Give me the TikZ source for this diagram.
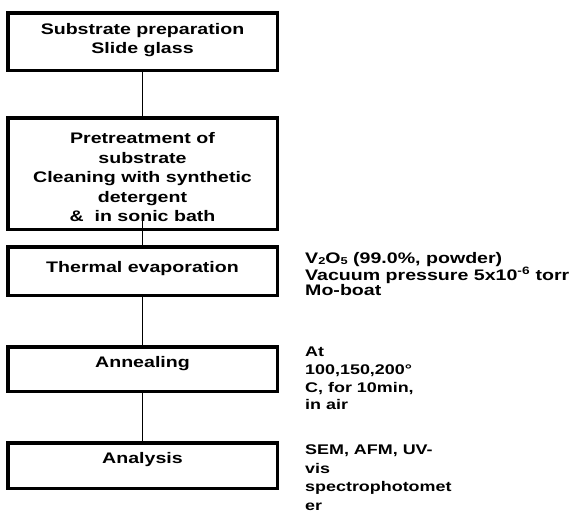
\documentclass[tikz,border=0pt]{standalone}
\usepackage{fontspec}
\setmainfont{Liberation Sans}[FakeStretch=1.28]
\newcommand{\lowidx}[1]{\raisebox{-1.3pt}{\fontsize{10}{10}\selectfont #1}}
\begin{document}
\begin{tikzpicture}[x=1pt,y=-1pt,
  box/.style={draw, line width=3.5pt, minimum width=269.5pt, inner sep=0pt},
  boxtext/.style={font=\bfseries\fontsize{15.3}{19.5}\selectfont, align=center, inner sep=0pt},
  side/.style={anchor=north west, align=left, inner sep=0pt},
  link/.style={line width=1.4pt}]
\useasboundingbox (0,0) rectangle (570,514);

% boxes
\node[box, minimum height=57.5pt]  (b1) at (142.5,41.5)  {};
\node[box, minimum height=111.5pt] (b2) at (142.5,173.5) {};
\node[box, minimum height=48.5pt]  (b3) at (142.5,271)   {};
\node[box, minimum height=44.5pt]  (b4) at (142.5,369)   {};
\node[box, minimum height=45.5pt]  (b5) at (142.5,465.5) {};

% box texts
\node[boxtext] (t1) at (142.5,40)  {Substrate preparation\\Slide glass};
\node[boxtext] (t2) at (142.5,177.5) {Pretreatment of\\substrate\\Cleaning with synthetic\\detergent\\\&\ \ in sonic bath};
\node[boxtext] (t3) at (142.5,269) {Thermal evaporation};
\node[boxtext] (t4) at (142.5,364) {Annealing};
\node[boxtext] (t5) at (142.5,460) {Analysis};

% connectors
\coordinate (c23) at (142.5,214);
\draw[link] (b1.south) -- (b2.north);
\draw[link] (c23) -- (b3.north);
\draw[link] (b3.south) -- (b4.north);
\draw[link] (b4.south) -- (b5.north);

% side notes
\node[side, font=\bfseries\fontsize{15.3}{13.8}\selectfont] (s3) at (305,252)
  {V\lowidx{2}O\lowidx{5} (99.0\%, powder)\\Vacuum pressure 5x10\textsuperscript{-6} torr\\Mo-boat};
\node[side, font=\bfseries\fontsize{14}{17.7}\selectfont] (s4) at (305,347)
  {At\\100,150,200°\\C, for 10min,\\in air};
\node[side, font=\bfseries\fontsize{14}{18.4}\selectfont] (s5) at (305,445)
  {SEM, AFM, UV-\\vis\\spectrophotomet\\er};
\end{tikzpicture}
\end{document}
